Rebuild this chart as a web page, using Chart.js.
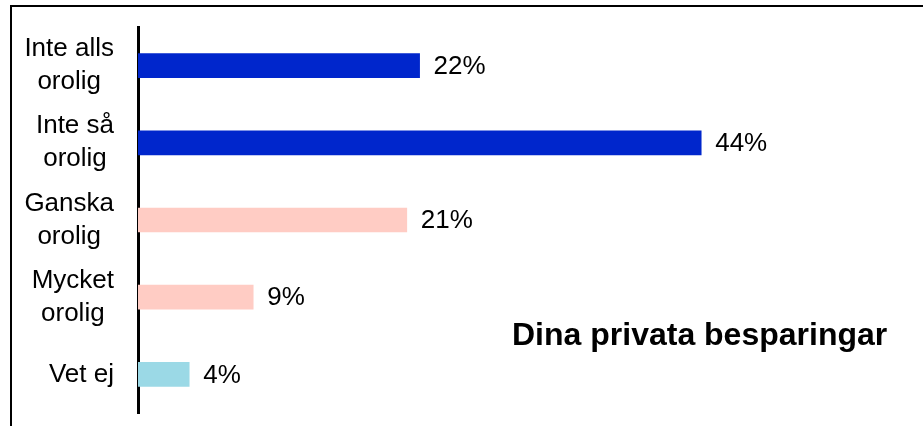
<!DOCTYPE html>
<html>
<head>
<meta charset="utf-8">
<script src="https://cdn.jsdelivr.net/npm/chart.js@4"></script>
<style>
  body { margin: 0; background: #fff; }
  canvas { display: block; }
</style>
</head>
<body>
<canvas id="chartSavings" width="923" height="426"></canvas>
<script>
// Data
const categories = [
    ["Inte alls", "orolig"],
    ["Inte så", "orolig"],
    ["Ganska", "orolig"],
    ["Mycket", "orolig"],
    ["Vet ej"]
];
const shares = [22, 44, 21, 9, 4];
const valueLabels = ["22%", "44%", "21%", "9%", "4%"];
const chartTitle = "Dina privata besparingar";

const barColors = ["#0026cc", "#0026cc", "#ffccc4", "#ffccc4", "#9bd9e6"];
const fontFamily = "'Liberation Sans', Arial, sans-serif";

// Frame lines (left + top) like the cropped slide
const framePlugin = {
    id: "frame",
    beforeDraw(chart) {
        const ctx = chart.ctx;
        ctx.save();
        ctx.fillStyle = "#fff";
        ctx.fillRect(0, 0, chart.width, chart.height);
        ctx.strokeStyle = "#000";
        ctx.lineWidth = 2;
        ctx.beginPath();
        ctx.moveTo(11, chart.height);
        ctx.lineTo(11, 6);
        ctx.lineTo(chart.width, 6);
        ctx.stroke();
        ctx.restore();
    }
};

// Category labels: block right aligned, lines centred within block
const categoryLabelsPlugin = {
    id: "categoryLabels",
    afterDraw(chart) {
        const ctx = chart.ctx;
        const yScale = chart.scales.y;
        const rightEdge = 114;
        const lineHeight = 33;
        ctx.save();
        ctx.font = "26px " + fontFamily;
        ctx.fillStyle = "#000";
        ctx.textAlign = "center";
        ctx.textBaseline = "middle";
        categories.forEach((lines, i) => {
            const yc = yScale.getPixelForValue(i);
            const maxW = Math.max(...lines.map(l => ctx.measureText(l).width));
            const xc = rightEdge - maxW / 2;
            lines.forEach((line, j) => {
                const y = yc + (j - (lines.length - 1) / 2) * lineHeight;
                ctx.fillText(line, xc, y);
            });
        });
        ctx.restore();
    }
};

// Value labels right of each bar + chart title
const valueLabelsPlugin = {
    id: "valueLabels",
    afterDatasetsDraw(chart) {
        const ctx = chart.ctx;
        const meta = chart.getDatasetMeta(0);
        ctx.save();
        ctx.font = "26px " + fontFamily;
        ctx.fillStyle = "#000";
        ctx.textAlign = "left";
        ctx.textBaseline = "middle";
        meta.data.forEach((bar, i) => {
            ctx.fillText(valueLabels[i], bar.x + 14, bar.y + 1);
        });

        ctx.font = "bold 32px " + fontFamily;
        ctx.textBaseline = "alphabetic";
        ctx.fillText(chartTitle, 512, 345);
        ctx.restore();
    }
};

new Chart(document.getElementById("chartSavings"), {
    type: "bar",
    data: {
        labels: categories,
        datasets: [{
            data: shares,
            backgroundColor: barColors,
            borderWidth: 0,
            barThickness: 24
        }]
    },
    options: {
        indexAxis: "y",
        responsive: false,
        animation: false,
        devicePixelRatio: 1,
        layout: {
            padding: { left: 12, top: 27, right: 17, bottom: 13 }
        },
        scales: {
            x: {
                display: false,
                min: 0,
                max: 60
            },
            y: {
                display: true,
                ticks: { display: false },
                grid: { display: false, drawTicks: false },
                border: { display: true, color: "#000", width: 3 },
                afterFit: scale => { scale.width = 126; }
            }
        },
        plugins: {
            legend: { display: false },
            tooltip: { enabled: false }
        }
    },
    plugins: [framePlugin, categoryLabelsPlugin, valueLabelsPlugin]
});
</script>
</body>
</html>
